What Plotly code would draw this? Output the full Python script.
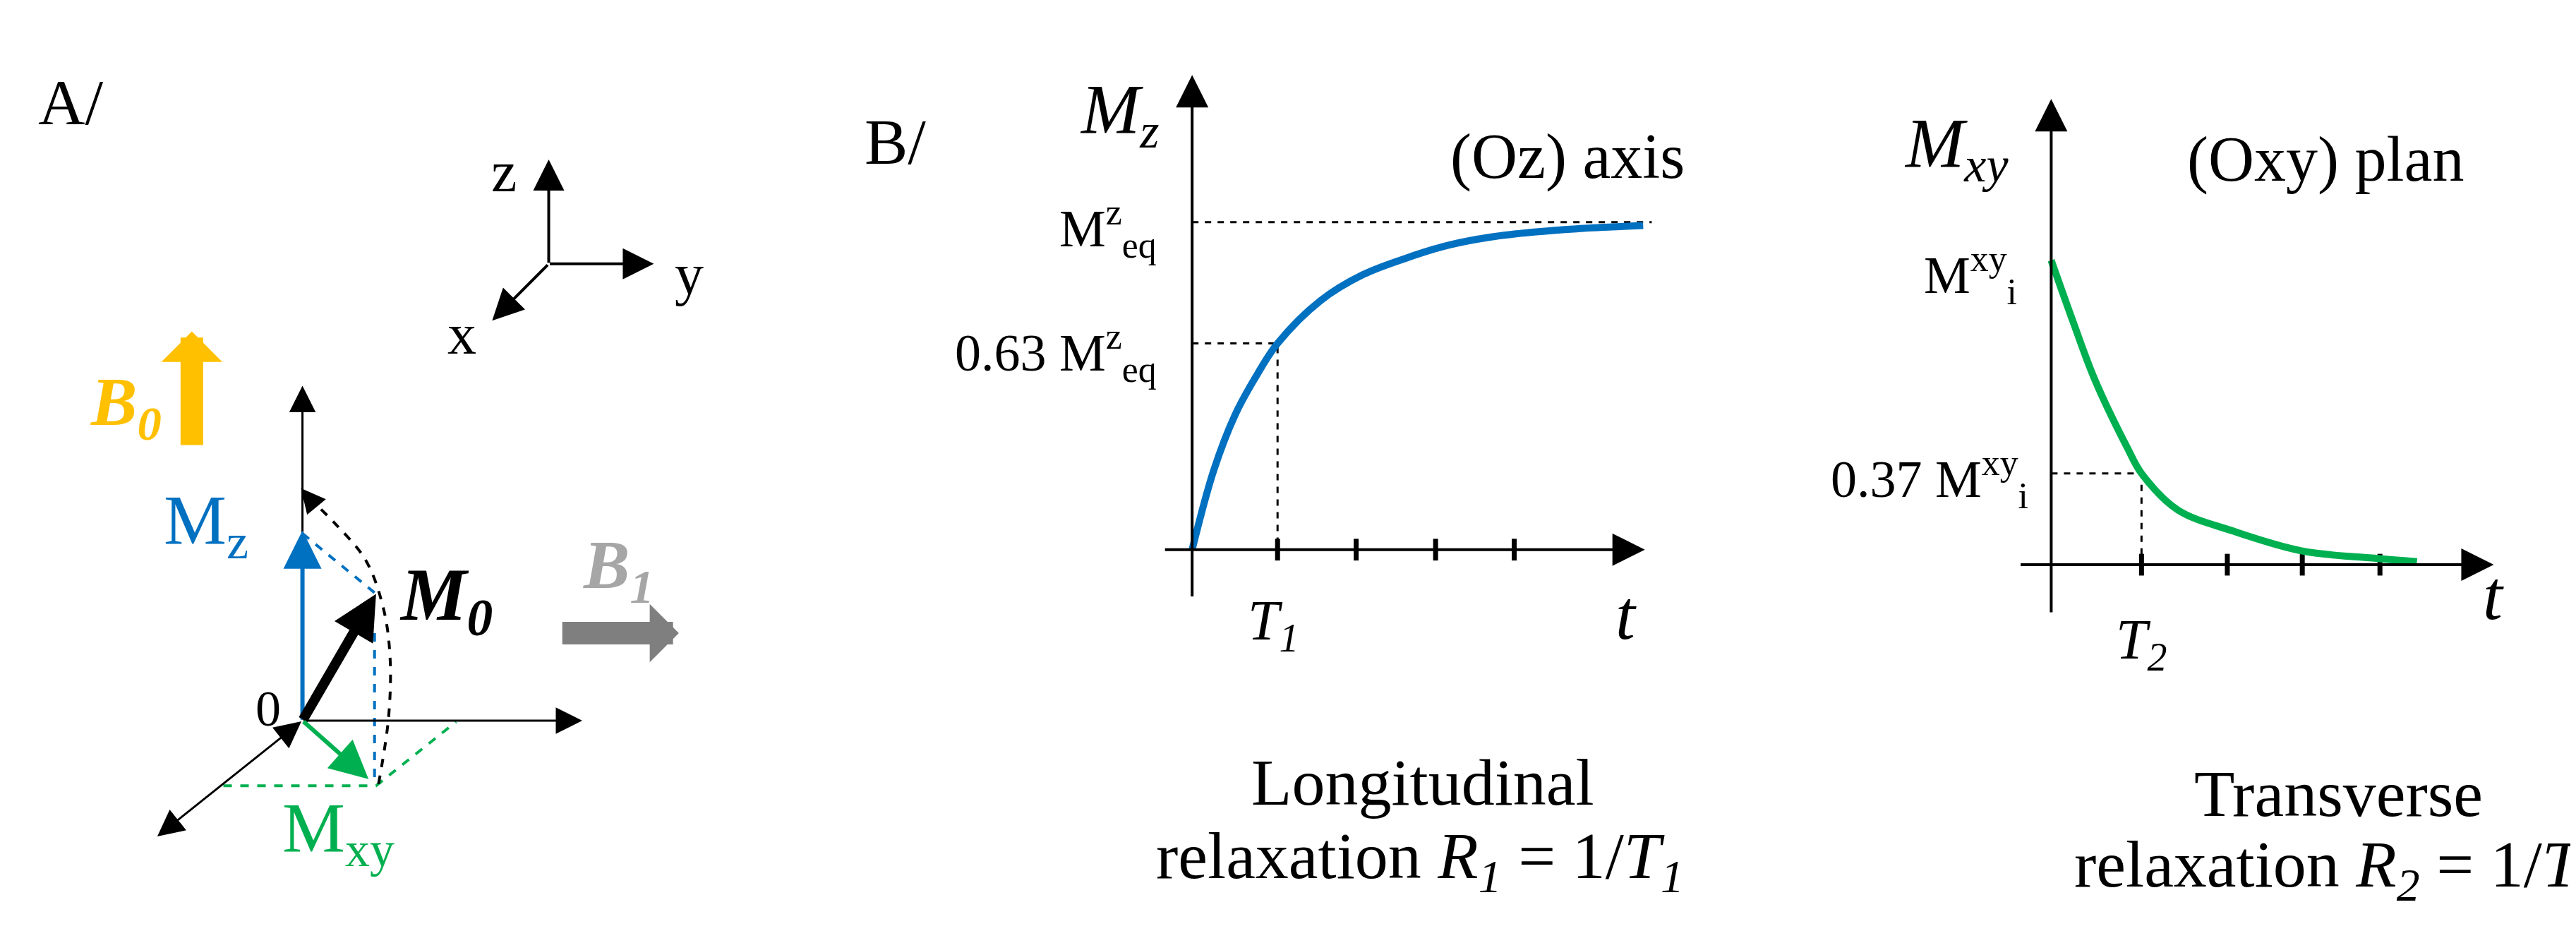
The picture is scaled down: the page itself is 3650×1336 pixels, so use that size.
import plotly.graph_objects as go

FONT = "Liberation Serif"
BLUE, GREEN, GOLD, GREY, LGREY = "#0070C0", "#00B050", "#FFC000", "#7F7F7F", "#A6A6A6"

# ---- panel A: vector diagram (diagram units, y downward) ----
origin = (593, 1185)
axis_z_tip = (593, 630)
axis_y_tip = (1152, 1185)
axis_x_tail = (303, 1377)
mz_tip = (593, 870)
m0_tip = (740, 975)
mxy_tip = (725, 1282)
blue_dash_x = [593, 740, None, 737, 737]
blue_dash_y = [875, 975, None, 1040, 1290]
green_dash_x = [435, 740, 900]
green_dash_y = [1293, 1293, 1187]
tip_path_x = [745, 765, 768, 755, 720, 660, 605]
tip_path_y = [1290, 1180, 1080, 1000, 920, 860, 815]
frame_o = (1085, 428)
frame_tips = [(1085, 255), (1295, 428), (972, 522)]
b0_arrow = [(372, 730), (372, 540)]
b1_arrow = [(1110, 1040), (1345, 1040)]

# ---- panel B: relaxation curves ----
t1 = [0, 0.25, 0.5, 0.75, 1.0, 1.5, 2.0, 2.5, 3.0, 3.5, 4.0, 4.5, 5.28]
mz = [0, 0.24, 0.41, 0.53, 0.63, 0.76, 0.84, 0.89, 0.93, 0.955, 0.97, 0.98, 0.99]
ticks1 = [1, 1.92, 2.85, 3.77]
t2 = [0, 0.24, 0.48, 0.85, 1.0, 1.4, 2.02, 2.78, 3.64, 4.05]
mxy = [1, 0.8, 0.61, 0.38, 0.30, 0.18, 0.11, 0.045, 0.02, 0.01]
ticks2 = [1, 1.95, 2.78, 3.64]
level1, level2 = 0.63, 0.30

fig = go.Figure()
ann = []

def arrow(x, y, ax, ay, ref, color="black", w=4, size=2.5, head=2, side="end"):
    ann.append(dict(x=x, y=y, ax=ax, ay=ay, xref="x" + ref, yref="y" + ref,
                    axref="x" + ref, ayref="y" + ref, showarrow=True, text="",
                    arrowhead=head, arrowsize=size, arrowwidth=w, arrowcolor=color,
                    arrowside=side, startarrowhead=head, startarrowsize=size))

def label(x, y, text, ref, size=80, color="black", xanchor="center"):
    ann.append(dict(x=x, y=y, xref="x" + ref, yref="y" + ref, text=text, showarrow=False,
                    xanchor=xanchor, yanchor="middle",
                    font=dict(family=FONT, size=size, color=color)))

# panel A
for tx, ty in frame_tips:
    arrow(tx, ty, frame_o[0], frame_o[1], "", w=4, size=2.2)
label(995, 275, "z", "", 82)
label(1365, 445, "y", "", 82)
label(912, 545, "x", "", 82)
label(130, 160, "A/", "", 92)
arrow(*axis_z_tip, *origin, "", w=3, size=2.5)
arrow(*axis_y_tip, *origin, "", w=3, size=2.5)
arrow(axis_x_tail[0], axis_x_tail[1], origin[0], origin[1], "", w=3, size=2.5, side="end+start")
label(525, 1165, "0", "", 72)
fig.add_trace(go.Scatter(x=blue_dash_x, y=blue_dash_y, mode="lines", xaxis="x", yaxis="y",
                         line=dict(color=BLUE, width=4, dash="dash")))
fig.add_trace(go.Scatter(x=green_dash_x, y=green_dash_y, mode="lines", xaxis="x", yaxis="y",
                         line=dict(color=GREEN, width=4, dash="dash")))
fig.add_trace(go.Scatter(x=tip_path_x, y=tip_path_y, mode="lines", xaxis="x", yaxis="y",
                         line=dict(color="black", width=4, dash="dash", shape="spline")))
arrow(590, 800, tip_path_x[-1], tip_path_y[-1], "", w=3, size=2.3)
arrow(*mz_tip, *origin, "", color=BLUE, w=6, size=1.8)
arrow(*m0_tip, *origin, "", w=14, size=0.9)
arrow(*mxy_tip, *origin, "", color=GREEN, w=6, size=1.8)
label(400, 860, "M<sub>z</sub>", "", 100, BLUE)
label(880, 985, "<b><i>M<sub>0</sub></i></b>", "", 105)
label(665, 1370, "M<sub>xy</sub>", "", 100, GREEN)
arrow(b0_arrow[1][0], b0_arrow[1][1], b0_arrow[0][0], b0_arrow[0][1], "", color=GOLD, w=32, size=0.45, head=1)
label(240, 665, "<b><i>B<sub>0</sub></i></b>", "", 98, GOLD)
arrow(b1_arrow[1][0], b1_arrow[1][1], b1_arrow[0][0], b1_arrow[0][1], "", color=GREY, w=32, size=0.43, head=1)
label(1225, 935, "<b><i>B<sub>1</sub></i></b>", "", 98, LGREY)

# panel B label
ann.append(dict(x=522 / 1568, y=1 - 60 / 574, xref="paper", yref="paper", text="B/",
                showarrow=False, font=dict(family=FONT, size=92, color="black")))

# panel B, longitudinal
arrow(0, 1.45, 0, -0.146, "2", w=4, size=2.3)
arrow(5.3, 0, -0.33, 0, "2", w=4, size=2.3)
fig.add_trace(go.Scatter(x=[0, 5.38], y=[1, 1], mode="lines", xaxis="x2", yaxis="y2",
                         line=dict(color="black", width=3, dash="dash")))
fig.add_trace(go.Scatter(x=[0, ticks1[0], ticks1[0]], y=[level1, level1, 0], mode="lines",
                         xaxis="x2", yaxis="y2", line=dict(color="black", width=3, dash="dash")))
fig.add_trace(go.Scatter(x=ticks1, y=[0] * 4, mode="markers", xaxis="x2", yaxis="y2",
                         marker=dict(symbol="line-ns", size=22, line=dict(width=7, color="black"))))
fig.add_trace(go.Scatter(x=t1, y=mz, mode="lines", xaxis="x2", yaxis="y2",
                         line=dict(color=BLUE, width=10, shape="spline")))
label(-0.85, 1.33, "<i>M<sub>z</sub></i>", "2", 100)
label(4.39, 1.2, "(Oz) axis", "2", 90)
label(-0.4, 0.98, "M<sup>z</sup><sub>eq</sub>", "2", 74, xanchor="right")
label(-0.4, 0.6, "0.63 M<sup>z</sup><sub>eq</sub>", "2", 74, xanchor="right")
label(0.95, -0.23, "<i>T<sub>1</sub></i>", "2", 80)
label(5.08, -0.2, "<i>t</i>", "2", 100)
label(2.7, -0.71, "Longitudinal", "2", 94)
label(2.67, -0.95, "relaxation <i>R<sub>1</sub></i> = 1/<i>T<sub>1</sub></i>", "2", 94)

# panel B, transverse
arrow(0, 1.53, 0, -0.16, "3", w=4, size=2.3)
arrow(4.9, 0, -0.35, 0, "3", w=4, size=2.3)
fig.add_trace(go.Scatter(x=[0, ticks2[0], ticks2[0]], y=[level2, level2, 0], mode="lines",
                         xaxis="x3", yaxis="y3", line=dict(color="black", width=3, dash="dash")))
fig.add_trace(go.Scatter(x=ticks2, y=[0] * 4, mode="markers", xaxis="x3", yaxis="y3",
                         marker=dict(symbol="line-ns", size=22, line=dict(width=7, color="black"))))
fig.add_trace(go.Scatter(x=t2, y=mxy, mode="lines", xaxis="x3", yaxis="y3",
                         line=dict(color=GREEN, width=10, shape="spline")))
label(-1.05, 1.37, "<i>M<sub>xy</sub></i>", "3", 100)
label(3.04, 1.33, "(Oxy) plan", "3", 90)
label(-0.36, 0.95, "M<sup>xy</sup><sub>i</sub>", "3", 74, xanchor="right")
label(-0.24, 0.28, "0.37 M<sup>xy</sup><sub>i</sub>", "3", 74, xanchor="right")
label(1.0, -0.26, "<i>T<sub>2</sub></i>", "3", 80)
label(4.9, -0.1, "<i>t</i>", "3", 100)
label(3.18, -0.75, "Transverse", "3", 94)
label(3.18, -1.0, "relaxation <i>R<sub>2</sub></i> = 1/<i>T<sub>2</sub></i>", "3", 94)

hide = dict(visible=False, showgrid=False, zeroline=False, fixedrange=True)
fig.update_layout(
    width=3650, height=1336, margin=dict(l=0, r=0, t=0, b=0),
    paper_bgcolor="white", plot_bgcolor="white", showlegend=False,
    annotations=ann,
    xaxis=dict(hide, domain=[0, 1100 / 3650], range=[0, 1551]),
    yaxis=dict(hide, domain=[0, 1], range=[1563, 0]),
    xaxis2=dict(hide, domain=[0.4208, 0.6463], range=[-1.2, 5.6]),
    yaxis2=dict(hide, domain=[0.0412, 0.9439], range=[-1.1, 1.5]),
    xaxis3=dict(hide, domain=[0.7485, 0.9764], range=[-1.3, 5.2]),
    yaxis3=dict(hide, domain=[0.0359, 0.9237], range=[-1.15, 1.6]),
)

fig.write_html("out.html")
